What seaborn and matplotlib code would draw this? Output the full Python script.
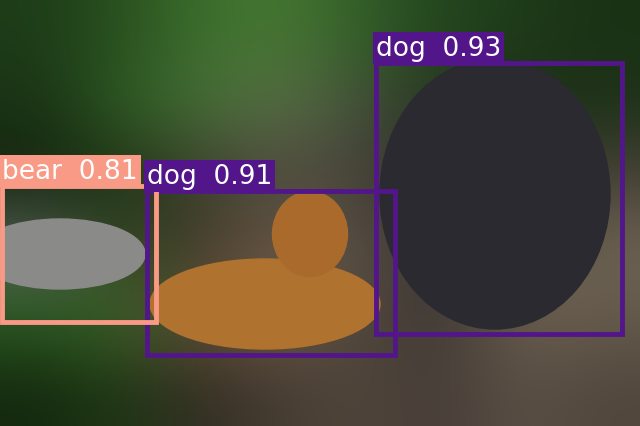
import numpy as np
import matplotlib
matplotlib.use("Agg")
import matplotlib.pyplot as plt
import matplotlib.patches as mpatches
import seaborn as sns

sns.set_style("white")
plt.rcParams['font.family'] = ['DejaVu Sans']

labels = ["dog", "dog", "bear"]
scores = [0.93, 0.91, 0.81]
box_x0 = [376, 147, 2]
box_y0 = [64, 192, 187]
box_x1 = [622, 395, 156]
box_y1 = [335, 356, 323]
colors = ["#53168a", "#53168a", "#f99a86"]

bg = np.array([
    [[30,60,25],[40,80,30],[60,110,45],[70,120,50],[50,95,40],[35,70,30],[30,60,25],[25,50,20]],
    [[25,50,20],[45,90,35],[70,110,55],[90,110,70],[70,80,60],[40,50,35],[30,45,25],[30,50,25]],
    [[20,35,15],[30,50,20],[60,60,45],[80,75,65],[70,65,55],[45,45,40],[60,55,45],[70,65,55]],
    [[90,100,90],[45,70,30],[70,60,45],[110,90,70],[90,80,70],[50,50,50],[100,90,75],[110,100,85]],
    [[40,90,30],[60,100,40],[100,75,55],[110,90,70],[80,70,60],[60,55,50],[110,95,80],[100,90,75]],
    [[20,40,15],[30,55,20],[50,45,35],[70,60,50],[80,70,60],[70,60,55],[90,80,70],[80,70,60]],
], dtype=float) / 255.0

fig = plt.figure(figsize=(6.4, 4.27), dpi=100)
ax = fig.add_axes([0, 0, 1, 1])
ax.imshow(bg, extent=(0, 640, 427, 0), interpolation="bicubic", aspect="auto")
ax.set_xlim(0, 640)
ax.set_ylim(427, 0)
ax.axis("off")

ax.add_patch(mpatches.Ellipse((495, 195), 230, 270, color="#2a2a30", zorder=1))
ax.add_patch(mpatches.Ellipse((265, 305), 230, 90, color="#b0722f", zorder=1))
ax.add_patch(mpatches.Ellipse((310, 235), 75, 85, color="#a96a2c", zorder=1))
ax.add_patch(mpatches.Ellipse((60, 255), 170, 70, color="#8a8a88", zorder=1))

for lab, sc, x0, y0, x1, y1, c in zip(labels, scores, box_x0, box_y0, box_x1, box_y1, colors):
    ax.add_patch(mpatches.Rectangle((x0, y0), x1 - x0, y1 - y0, fill=False,
                                    edgecolor=c, linewidth=3.5, zorder=3))
    ax.text(x0, y0 - 2, f"{lab}  {sc:.2f}", color="white", fontsize=19,
            va="bottom", ha="left", zorder=4,
            bbox=dict(boxstyle="square,pad=0.12", facecolor=c, edgecolor="none"))

fig.savefig("out.png", dpi=100)
